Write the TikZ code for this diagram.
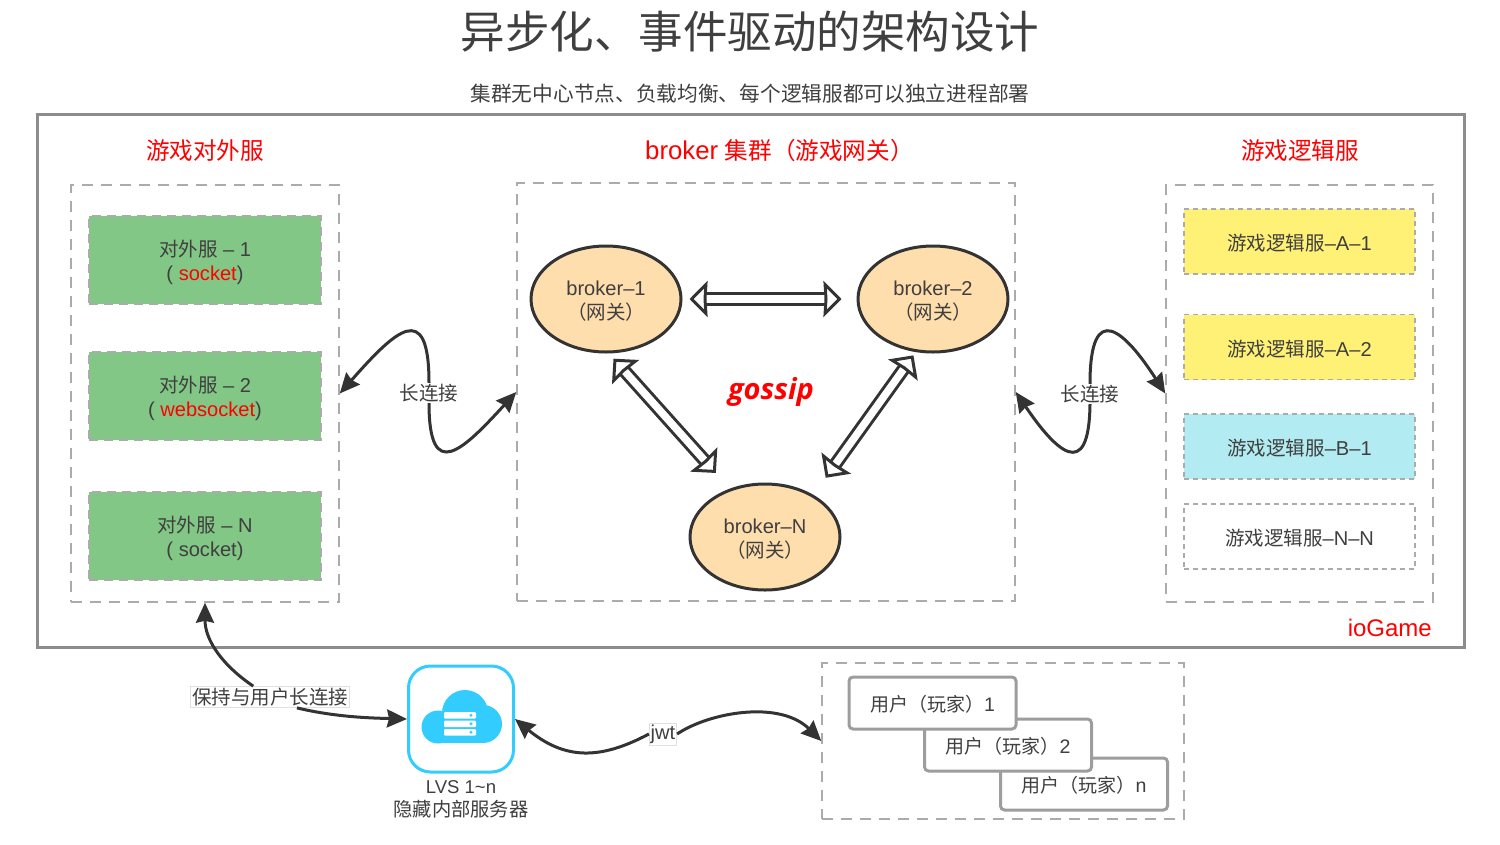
\documentclass[tikz,border=0pt]{standalone}
\usepackage{fontspec}
\usepackage{tikz}
\setmainfont[Scale=1.03]{Liberation Sans}
\newfontfamily\cjk{Noto Sans CJK SC}
\newfontfamily\gossipfont{Open Sans}
\usetikzlibrary{arrows.meta, shapes.geometric}
\newcommand{\zh}[1]{{\cjk #1}}
\definecolor{inkgray}{HTML}{3F3F3F}
\definecolor{linegray}{HTML}{333333}
\definecolor{dashgray}{HTML}{ABABAB}
\definecolor{framegray}{HTML}{8C8C8C}
\definecolor{extgreen}{HTML}{82C785}
\definecolor{logicyellow}{HTML}{FFF176}
\definecolor{logiccyan}{HTML}{B2EBF2}
\definecolor{brokerfill}{HTML}{FFDEAD}
\definecolor{cloudblue}{HTML}{33CCFF}

\begin{document}
\begin{tikzpicture}[x=1pt, y=-1pt,
    groupbox/.style={draw=dashgray, line width=1.5pt, dash pattern=on 11pt off 8pt, inner sep=0pt},
    extbox/.style={draw=dashgray, fill=extgreen, line width=1.5pt, dash pattern=on 9pt off 6pt, minimum width=232, minimum height=88, inner sep=0pt, align=center, text height=40pt, text depth=0pt, font=\fontsize{19.5}{24}\selectfont, text=inkgray},
    logicbox/.style={draw=dashgray, line width=1.5pt, dash pattern=on 5pt off 4pt, minimum width=231, minimum height=65, inner sep=0pt, text height=18pt, text depth=0pt, font=\fontsize{19.5}{24}\selectfont, text=inkgray},
    brokernode/.style={ellipse, draw=linegray, fill=brokerfill, line width=3pt, minimum width=150, minimum height=106, inner sep=0pt, align=center, text height=40pt, text depth=0pt, font=\fontsize{19.5}{24}\selectfont, text=inkgray},
    userbox/.style={draw=framegray!85, fill=white, line width=3pt, rounded corners=4pt, minimum width=167, minimum height=52, inner sep=0pt, text height=17pt, text depth=0pt, font=\fontsize{19}{24}\selectfont, text=inkgray},
    heading/.style={font=\fontsize{23.6}{28}\selectfont, text=red},
    linklabel/.style={font=\fontsize{19.5}{24}\selectfont, text=inkgray, inner sep=1pt},
    tagbox/.style={draw=black!12, fill=white, line width=0.6pt, inner sep=1.5pt, font=\fontsize{19.5}{24}\selectfont, text=inkgray},
    link/.style={draw=linegray, line width=3pt, -{Stealth[length=20pt, width=18pt, inset=2pt]}},
    gossiplink/.style={draw=linegray, line width=3pt, double=white, double distance=7.5pt, >={Stealth[open, fill=white, line width=3pt, length=18pt, width=36pt, inset=1pt]}, <->}]
    \useasboundingbox (0,0) rectangle (1500,844);

    % Titles
    \node[font=\fontsize{44.5}{50}\selectfont, text=inkgray] (title) at (750,32) {\zh{异步化、事件驱动的架构设计}};
    \node[font=\fontsize{20.7}{25}\selectfont, text=inkgray] (subtitle) at (750,94) {\zh{集群无中心节点、负载均衡、每个逻辑服都可以独立进程部署}};

    % Outer Frame
    \draw[draw=framegray, line width=3pt] (37,114) rectangle (1464,647);
    \node[font=\fontsize{23.3}{28}\selectfont, text=red, anchor=east, inner sep=0pt] (iogame) at (1432,628) {ioGame};

    % Group Headers
    \node[heading] (exthead) at (205,151) {\zh{游戏对外服}};
    \node[heading, anchor=west, inner sep=0pt] (brokerhead) at (645,151) {{\fontsize{25}{28}\selectfont broker} \zh{集群（游戏网关）}};
    \node[heading] (logichead) at (1300,151) {\zh{游戏逻辑服}};

    % Dashed Groups
    \node[groupbox, minimum width=268, minimum height=417] (extgroup) at (205,393.5) {};
    \node[groupbox, minimum width=498, minimum height=418] (brokergroup) at (766,392) {};
    \node[groupbox, minimum width=267, minimum height=417] (logicgroup) at (1299.5,393.5) {};
    \node[groupbox, minimum width=362, minimum height=156] (usergroup) at (1003,741) {};

    % External Servers
    \node[extbox] (ext1) at (205,260) {\zh{对外服} – 1\\( \textcolor{red}{socket})};
    \node[extbox] (ext2) at (205,396) {\zh{对外服} – 2\\( \textcolor{red}{websocket})};
    \node[extbox] (extn) at (205,536) {\zh{对外服} – N\\( socket)};

    % Logic Servers
    \node[logicbox, fill=logicyellow] (logic1) at (1299.5,241.5) {\zh{游戏逻辑服}–A–1};
    \node[logicbox, fill=logicyellow] (logic2) at (1299.5,347) {\zh{游戏逻辑服}–A–2};
    \node[logicbox, fill=logiccyan] (logic3) at (1299.5,446.5) {\zh{游戏逻辑服}–B–1};
    \node[logicbox, fill=white] (logicn) at (1299.5,536.5) {\zh{游戏逻辑服}–N–N};

    % Brokers
    \node[brokernode] (broker1) at (606,299) {broker–1\\\zh{（网关）}};
    \node[brokernode] (broker2) at (933,299) {broker–2\\\zh{（网关）}};
    \node[brokernode] (brokern) at (765,537) {broker–N\\\zh{（网关）}};
    \node[font=\fontsize{29}{32}\selectfont\gossipfont\bfseries\itshape, text=red] (gossip) at (771,392) {gossip};

    \draw[gossiplink, shorten <=7pt, shorten >=15pt] (broker1.east) -- (broker2.west);
    \draw[gossiplink, shorten <=7pt, shorten >=21pt] (broker1.-87) -- (brokern.126);
    \draw[gossiplink, shorten <=4pt, shorten >=21pt] (broker2.-108) -- (brokern.41);

    % Long Connection Links
    \node[linklabel] (linkleft) at (429,393) {\zh{长连接}};
    \node[linklabel] (linkright) at (1090,394) {\zh{长连接}};
    \draw[link] (linkleft.north) .. controls (429,298) and (395,331) .. (extgroup.east);
    \draw[link] (linkleft.south) .. controls (429,484) and (463,450) .. (brokergroup.west);
    \draw[link] (linkright.north) .. controls (1090,298) and (1125,331) .. (logicgroup.west);
    \draw[link] (linkright.south) .. controls (1089,484) and (1055,450) .. (brokergroup.east);

    % LVS
    \node[draw=cloudblue, fill=white, line width=3pt, rounded corners=22pt, minimum width=105, minimum height=106, inner sep=0pt] (lvs) at (461,719) {};
    \fill[cloudblue] (465,713) circle (23);
    \fill[cloudblue] (438,727) circle (16.5);
    \fill[cloudblue] (483,724) circle (19);
    \fill[cloudblue] (438,720) rectangle (483,743.3);
    \foreach \y in {712,720.5,729} {
        \fill[white, rounded corners=1pt] (444,\y) rectangle (476,\y+6.5);
        \fill[cloudblue] (471,\y+3.2) circle (1.6);
    }
    \node[align=center, font=\fontsize{19.3}{23}\selectfont, text=inkgray] (lvstext) at (461,799) {{\fontsize{18}{23}\selectfont LVS 1\textasciitilde n}\\\zh{隐藏内部服务器}};

    % Users
    \node[userbox] (user3) at (1084,784) {\zh{用户（玩家）}n};
    \node[userbox] (user2) at (1008,745) {\zh{用户（玩家）}2};
    \node[userbox] (user1) at (932.5,703) {\zh{用户（玩家）}1};

    % Bottom Links
    \node[tagbox] (keeptag) at (270,697) {\zh{保持与用户长连接}};
    \node[tagbox] (jwttag) at (663,734) {jwt};
    \draw[link] (keeptag.147) .. controls (222,665) and (205,640) .. (extgroup.south);
    \draw[link] (keeptag.-22) .. controls (335,717) and (370,718) .. (lvs.west);
    \draw[link] (jwttag.west) .. controls (600,760) and (565,760) .. (lvs.east);
    \draw[link] (jwttag.east) .. controls (710,712) and (780,700) .. (usergroup.west);
\end{tikzpicture}
\end{document}
